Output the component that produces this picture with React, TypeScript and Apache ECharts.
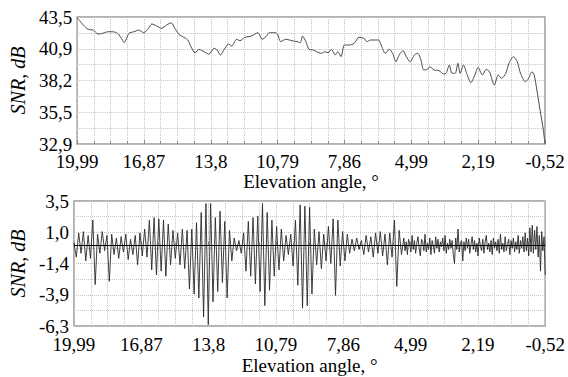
import React, { useEffect, useRef } from 'react';
import * as echarts from 'echarts';

// Elevation-angle tick labels (the x axis runs in equal time steps, labelled by angle)
const xTickLabels = ['19,99', '16,87', '13,8', '10,79', '7,86', '4,99', '2,19', '-0,52'];
const topYLabels = ['32,9', '35,5', '38,2', '40,9', '43,5'];
const bottomYLabels = ['-6,3', '-3,9', '-1,4', '1,0', '3,5'];

// Top panel: position along the axis (in tick steps) and SNR, dB
const topT = [
  0, 0.092, 0.165, 0.239, 0.312, 0.385, 0.458, 0.532, 0.605, 0.678, 0.703, 0.776, 0.849, 0.922, 0.996,
  1.069, 1.117, 1.19, 1.264, 1.337, 1.41, 1.46, 1.533, 1.581, 1.655, 1.703, 1.762, 1.826, 1.899, 1.972,
  2.046, 2.094, 2.142, 2.201, 2.265, 2.314, 2.387, 2.435, 2.508, 2.606, 2.705, 2.768, 2.826, 2.875, 2.962,
  2.998, 3.046, 3.119, 3.217, 3.29, 3.339, 3.373, 3.422, 3.47, 3.534, 3.583, 3.656, 3.705, 3.753, 3.803,
  3.861, 3.9, 3.949, 3.998, 4.071, 4.144, 4.217, 4.29, 4.339, 4.389, 4.462, 4.51, 4.558, 4.608, 4.671,
  4.72, 4.769, 4.818, 4.876, 4.925, 4.983, 5.047, 5.096, 5.144, 5.184, 5.242, 5.276, 5.34, 5.414, 5.487,
  5.52, 5.569, 5.608, 5.657, 5.696, 5.73, 5.78, 5.828, 5.891, 5.95, 6.0, 6.062, 6.121, 6.169, 6.242,
  6.301, 6.351, 6.414, 6.462, 6.527, 6.585, 6.633, 6.707, 6.755, 6.805, 6.838, 6.878, 6.926, 6.975, 7.0,
];
const topSnr = [
  43.45, 42.83, 42.47, 42.41, 42.08, 42.14, 42.27, 42.27, 42.14, 41.58, 41.36, 42.14, 42.27, 42.41, 42.19,
  42.56, 42.92, 42.75, 42.56, 42.83, 43.02, 42.56, 42.0, 41.86, 41.58, 41.02, 40.52, 40.8, 40.6, 40.39,
  40.89, 40.75, 40.33, 40.8, 41.25, 41.08, 41.64, 41.52, 41.8, 41.91, 42.19, 41.64, 41.86, 42.19, 42.19,
  42.08, 41.44, 41.64, 41.52, 41.44, 41.36, 41.91, 41.44, 40.8, 40.75, 40.6, 40.47, 40.6, 40.52, 40.8,
  40.33, 40.6, 40.19, 41.16, 41.16, 41.3, 41.8, 41.72, 41.44, 41.58, 41.58, 41.58, 41.02, 40.47, 40.8,
  40.47, 39.77, 40.33, 40.69, 40.19, 39.77, 40.33, 40.47, 39.91, 39.08, 39.13, 39.35, 39.08, 39.02, 38.74,
  38.8, 39.49, 38.8, 38.8, 39.64, 38.8, 39.49, 38.8, 38.02, 38.66, 39.3, 38.66, 39.13, 38.93, 37.82,
  38.66, 38.38, 38.8, 39.64, 40.19, 39.77, 38.8, 38.1, 38.38, 38.93, 38.66, 37.41, 35.74, 34.07, 32.9,
];

// Bottom panel: detrended SNR, dB.
// Part A: sampled every 0.035 axis steps from the start of the axis.
const bottomSnrA = [
  0.2, -0.9, 1.0, -0.6, 1.1, -1.2, 0.8, -1.0, 2.0, -3.05,
  0.9, -0.6, 1.1, -0.4, 0.8, -2.8, 0.9, -0.7, 0.6, -1.0,
  0.7, -0.5, 0.9, -1.1, 0.5, -0.7, 0.8, -1.5, 1.0, -0.8,
  1.3, -0.9, 2.0, -1.9, 2.2, -2.3, 2.1, -2.0, 2.0, -2.4,
  1.7, -1.5, 1.2, -1.0, 1.0, -1.5, 1.3, -1.8, 1.2, -3.4,
  1.3, -3.8, 1.8, -4.1, 2.6, -5.6, 3.3, -6.2, 3.3, -4.4,
  2.2, -3.6, 2.7, -2.9, 1.9, -4.1, 1.2, -1.2, 0.6, -0.4,
  0.4, -0.6, 1.0, -2.0, 1.9, -2.4, 2.2, -3.0, 2.3, -3.6,
  3.3, -4.7, 2.6, -3.5, 2.0, -2.4, 1.5, -1.9, 1.3, -1.2,
  0.8, -0.7, 0.9, -1.6, 2.0, -3.1, 3.2, -4.9, 3.1, -4.7,
  3.0, -3.8, 1.3, -1.5, 1.1, -1.8, 0.9, -1.2, 1.5, -1.4,
  2.1, -3.9, 2.0, -1.6, 1.1, -1.2, 0.9, -0.6, 0.5, -0.4,
  0.6, -0.3, 0.4, -0.7, 0.8, -0.5, 0.7, -0.9, 1.0, -0.6,
  1.1, -0.8, 0.9, -1.5, 1.0, -0.9, 2.0, -3.2, 1.2, -0.7,
];
const bottomStepA = 0.035;
// Part B: the noisy tail, sampled every 0.0175 axis steps from 4.9 on.
const bottomStartB = 4.9;
const bottomStepB = 0.0175;
const bottomSnrB = [
  0.6, -0.4, 0.3, -0.7, 0.5, 0.1, -0.5, 0.8, -0.3, 0.4,
  -0.6, 0.2, 0.7, -0.2, -0.8, 0.5, 0.3, -0.4, 0.9, -0.5,
  0.2, -0.3, 0.6, -0.7, 0.4, 0.0, -0.6, 0.7, -0.2, 0.5,
  -0.5, 0.3, -0.1, 0.6, -0.4, 0.8, -0.6, 0.2, -0.3, 0.5,
  -0.2, 0.4, -0.7, -1.4, 0.6, -0.3, 1.3, -0.5, 0.2, 0.4,
  -1.2, 0.3, -0.4, 0.6, -0.2, 0.5, -0.6, 0.1, 0.7, -0.3,
  0.4, -0.5, 0.2, -0.8, 0.6, 0.0, -0.4, 0.5, -0.6, 0.3,
  0.8, -0.3, 0.2, -0.5, 0.4, -0.7, 0.6, -0.2, 0.3, -0.4,
  0.5, -0.6, 0.9, -0.3, 0.2, -0.5, 0.7, -0.4, 0.1, 0.5,
  -0.7, 0.4, -0.2, 0.6, -0.5, 0.3, -0.3, 0.8, -0.6, 0.4,
  -0.2, 0.7, -0.5, 1.0, -0.4, 0.6, -0.8, 1.4, -0.5, 1.6,
  -0.6, 1.2, -0.3, 1.5, -0.9, 0.8, -2.0, 1.1, -0.4, 0.7, -2.3,
];

const FONT = 'Liberation Serif';
const GRID_COLOR = '#c4c4c4';

function xAxisFor(gridIndex: number, nameGap: number, margin: number) {
  return {
    type: 'value',
    gridIndex,
    min: 0,
    max: xTickLabels.length - 1,
    interval: 1,
    name: 'Elevation angle, °',
    nameLocation: 'middle',
    nameGap,
    nameTextStyle: { fontFamily: FONT, fontSize: 19, color: '#000' },
    axisLine: { show: false },
    axisTick: { show: true, inside: true, length: 4, lineStyle: { color: '#888' } },
    minorTick: { show: true, splitNumber: 4, length: 3, lineStyle: { color: '#888' } },
    axisLabel: {
      margin,
      fontFamily: FONT,
      fontSize: 19,
      color: '#000',
      formatter: (v: number) => xTickLabels[Math.round(v)] ?? '',
    },
    splitLine: { show: true, lineStyle: { color: GRID_COLOR, type: 'dotted', width: 1 } },
    minorSplitLine: { show: true, lineStyle: { color: GRID_COLOR, type: 'dotted', width: 1 } },
  };
}

function yAxisFor(gridIndex: number, min: number, max: number, labels: string[]) {
  const step = (max - min) / (labels.length - 1);
  return {
    type: 'value',
    gridIndex,
    min,
    max,
    interval: step,
    name: 'SNR, dB',
    nameLocation: 'middle',
    nameGap: 42,
    nameRotate: 90,
    nameTextStyle: { fontFamily: FONT, fontSize: 20, fontStyle: 'italic', color: '#000' },
    axisLine: { show: false },
    axisTick: { show: false },
    minorTick: { show: false, splitNumber: 2 },
    axisLabel: {
      margin: 5,
      fontFamily: FONT,
      fontSize: 19,
      color: '#000',
      formatter: (v: number) => labels[Math.round((v - min) / step)] ?? '',
    },
    splitLine: { show: true, lineStyle: { color: GRID_COLOR, type: 'dotted', width: 1 } },
    minorSplitLine: { show: true, lineStyle: { color: GRID_COLOR, type: 'dotted', width: 1 } },
  };
}

export default function App() {
  const ref = useRef<HTMLDivElement>(null);

  useEffect(() => {
    if (!ref.current) return;
    const chart = echarts.init(ref.current, undefined, { renderer: 'svg' });
    const bottomData = [
      ...bottomSnrA.map((v, i) => [i * bottomStepA, v]),
      ...bottomSnrB.map((v, j) => [bottomStartB + j * bottomStepB, v]),
    ];
    chart.setOption({
      animation: false,
      backgroundColor: '#fff',
      textStyle: { fontFamily: FONT },
      grid: [
        { left: 67, top: 17, width: 478, height: 127, show: true, borderColor: '#999', borderWidth: 1.5, backgroundColor: 'transparent' },
        { left: 67, top: 201, width: 482, height: 125, show: true, borderColor: '#999', borderWidth: 1.5, backgroundColor: 'transparent' },
      ],
      xAxis: [xAxisFor(0, 28, 8), xAxisFor(1, 30, 9)],
      yAxis: [
        yAxisFor(0, 32.9, 43.5, topYLabels),
        yAxisFor(1, -6.3, 3.5, bottomYLabels),
      ],
      series: [
        {
          type: 'line',
          xAxisIndex: 0,
          yAxisIndex: 0,
          data: topT.map((t, i) => [t, topSnr[i]]),
          showSymbol: false,
          smooth: 0.25,
          lineStyle: { color: '#4a4a4a', width: 1 },
        },
        {
          type: 'line',
          xAxisIndex: 1,
          yAxisIndex: 1,
          data: bottomData,
          showSymbol: false,
          lineStyle: { color: '#2a2a2a', width: 0.9 },
          markLine: {
            silent: true,
            symbol: 'none',
            label: { show: false },
            lineStyle: { color: '#000', type: 'solid', width: 1.2 },
            data: [{ yAxis: 0 }],
          },
        },
      ],
    });
    return () => chart.dispose();
  }, []);

  return (
    <div
      ref={ref}
      style={{ position: 'fixed', left: 0, top: 0, width: 568, height: 377 }}
    />
  );
}
